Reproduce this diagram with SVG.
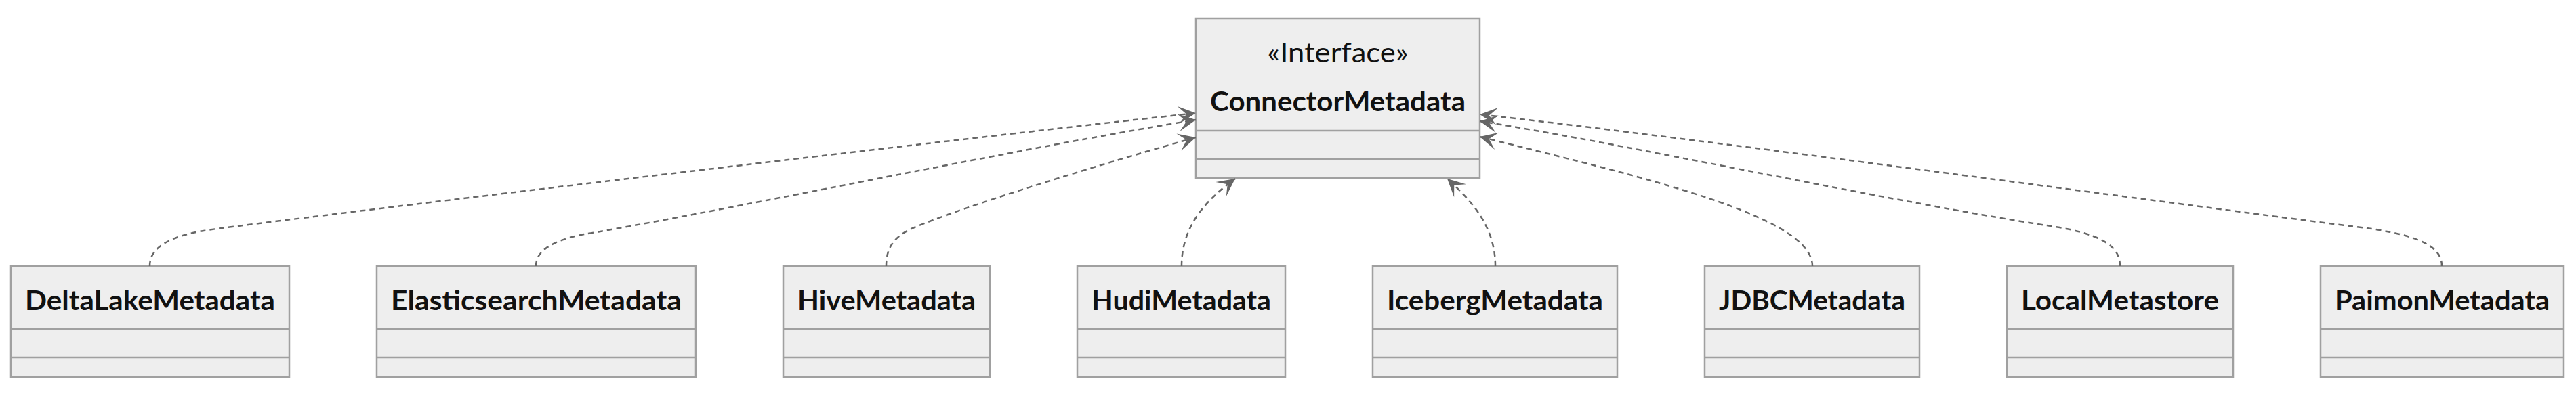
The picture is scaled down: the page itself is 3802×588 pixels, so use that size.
<svg xmlns="http://www.w3.org/2000/svg" width="3802" height="588" viewBox="0 0 3802 588">
<style>
.box{fill:#EEEEEE;stroke:#A0A0A0;stroke-width:2.5}
.div{stroke:#A0A0A0;stroke-width:2.5}
.name{font-family:Lato,"Liberation Sans",sans-serif;font-weight:bold;font-size:40px;fill:#111111;text-anchor:middle}
.st{font-family:Lato,"Liberation Sans",sans-serif;font-size:40px;fill:#111111;text-anchor:middle}
.dep{fill:none;stroke:#666666;stroke-width:2.5;stroke-dasharray:8,6;marker-end:url(#arr)}
</style>
<defs>
<marker id="arr" markerUnits="userSpaceOnUse" orient="auto" refX="0" refY="0" markerWidth="1" markerHeight="1" style="overflow:visible">
<path d="M0,0 L-26,-13 L-14,0 L-26,13 Z" fill="#666666"/>
</marker>
</defs>
<rect width="3802" height="588" fill="#FFFFFF"/>
<g id="ConnectorMetadata">
<rect class="box" x="1765" y="27" width="419" height="236"/>
<line class="div" x1="1765" y1="193" x2="2184" y2="193"/>
<line class="div" x1="1765" y1="235" x2="2184" y2="235"/>
<text class="st" x="1974.5" y="92" textLength="208" lengthAdjust="spacingAndGlyphs">«Interface»</text>
<text class="name" x="1974.5" y="164" textLength="377" lengthAdjust="spacingAndGlyphs">ConnectorMetadata</text>
</g>
<g id="DeltaLakeMetadata">
<rect class="box" x="16" y="393" width="411" height="164"/>
<line class="div" x1="16" y1="486" x2="427" y2="486"/>
<line class="div" x1="16" y1="528" x2="427" y2="528"/>
<text class="name" x="221.5" y="458" textLength="369" lengthAdjust="spacingAndGlyphs">DeltaLakeMetadata</text>
</g>
<g id="ElasticsearchMetadata">
<rect class="box" x="556" y="393" width="471" height="164"/>
<line class="div" x1="556" y1="486" x2="1027" y2="486"/>
<line class="div" x1="556" y1="528" x2="1027" y2="528"/>
<text class="name" x="791.5" y="458" textLength="429" lengthAdjust="spacingAndGlyphs">ElasticsearchMetadata</text>
</g>
<g id="HiveMetadata">
<rect class="box" x="1156" y="393" width="305" height="164"/>
<line class="div" x1="1156" y1="486" x2="1461" y2="486"/>
<line class="div" x1="1156" y1="528" x2="1461" y2="528"/>
<text class="name" x="1308.5" y="458" textLength="263" lengthAdjust="spacingAndGlyphs">HiveMetadata</text>
</g>
<g id="HudiMetadata">
<rect class="box" x="1590" y="393" width="307" height="164"/>
<line class="div" x1="1590" y1="486" x2="1897" y2="486"/>
<line class="div" x1="1590" y1="528" x2="1897" y2="528"/>
<text class="name" x="1743.5" y="458" textLength="265" lengthAdjust="spacingAndGlyphs">HudiMetadata</text>
</g>
<g id="IcebergMetadata">
<rect class="box" x="2026" y="393" width="361" height="164"/>
<line class="div" x1="2026" y1="486" x2="2387" y2="486"/>
<line class="div" x1="2026" y1="528" x2="2387" y2="528"/>
<text class="name" x="2206.5" y="458" textLength="319" lengthAdjust="spacingAndGlyphs">IcebergMetadata</text>
</g>
<g id="JDBCMetadata">
<rect class="box" x="2516" y="393" width="317" height="164"/>
<line class="div" x1="2516" y1="486" x2="2833" y2="486"/>
<line class="div" x1="2516" y1="528" x2="2833" y2="528"/>
<text class="name" x="2674.5" y="458" textLength="275" lengthAdjust="spacingAndGlyphs">JDBCMetadata</text>
</g>
<g id="LocalMetastore">
<rect class="box" x="2962" y="393" width="334" height="164"/>
<line class="div" x1="2962" y1="486" x2="3296" y2="486"/>
<line class="div" x1="2962" y1="528" x2="3296" y2="528"/>
<text class="name" x="3129" y="458" textLength="292" lengthAdjust="spacingAndGlyphs">LocalMetastore</text>
</g>
<g id="PaimonMetadata">
<rect class="box" x="3425" y="393" width="359" height="164"/>
<line class="div" x1="3425" y1="486" x2="3784" y2="486"/>
<line class="div" x1="3425" y1="528" x2="3784" y2="528"/>
<text class="name" x="3604.5" y="458" textLength="317" lengthAdjust="spacingAndGlyphs">PaimonMetadata</text>
</g>
<g id="connectors">
<path class="dep" d="M221,393 C221,365 250,347 320,338 C600,302 1400,207 1765,167"/>
<path class="dep" d="M791,393 C791,368 820,352 880,343 C1100,305 1500,220 1765,177"/>
<path class="dep" d="M1308,393 C1308,365 1320,350 1345,338 C1420,305 1650,235 1765,203"/>
<path class="dep" d="M1744,393 C1744,330 1785,292 1823,264"/>
<path class="dep" d="M2207,393 C2207,330 2166,292 2136,264"/>
<path class="dep" d="M2675,393 C2675,320 2434,264 2184,202"/>
<path class="dep" d="M3129,393 C3129,365 3105,348 3040,336 C2800,300 2400,213 2184,179"/>
<path class="dep" d="M3604,393 C3604,368 3580,350 3500,338 C3200,300 2500,204 2184,169"/>
</g>
</svg>
